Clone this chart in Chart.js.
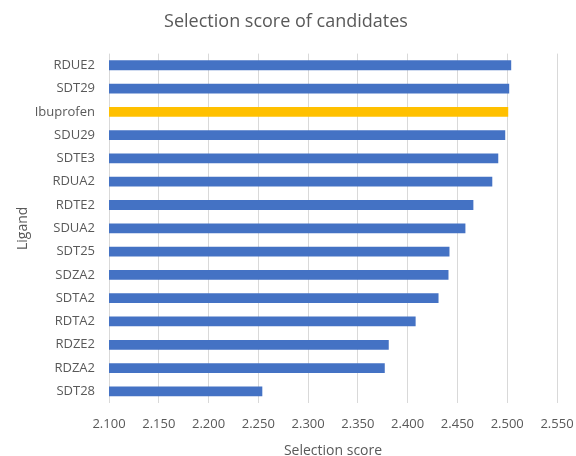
<!DOCTYPE html>
<html>
<head>
<meta charset="utf-8">
<script src="https://cdn.jsdelivr.net/npm/chart.js@4/dist/chart.umd.min.js"></script>
<style>
  html, body { margin: 0; padding: 0; background: #fff; }
  #wrap { width: 576px; height: 456px; }
</style>
</head>
<body>
<div id="wrap"><canvas id="scoreChart" width="576" height="456"></canvas></div>
<script>
// values
const ligands = ['RDUE2', 'SDT29', 'Ibuprofen', 'SDU29', 'SDTE3', 'RDUA2', 'RDTE2', 'SDUA2',
    'SDT25', 'SDZA2', 'SDTA2', 'RDTA2', 'RDZE2', 'RDZA2', 'SDT28'];
const scores = [2.504, 2.502, 2.501, 2.498, 2.491, 2.485, 2.466, 2.458,
    2.442, 2.441, 2.431, 2.408, 2.381, 2.377, 2.254];
const xTicks = [2.100, 2.150, 2.200, 2.250, 2.300, 2.350, 2.400, 2.450, 2.500, 2.550];

const textColor = '#595959';
const fontFamily = '"Open Sans", "Liberation Sans", sans-serif';

const barColors = ligands.map(name => name === 'Ibuprofen' ? '#FFC000' : '#4472C4');

const ctx = document.getElementById('scoreChart').getContext('2d');
const scoreChart = new Chart(ctx, {
    type: 'bar',
    data: {
        labels: ligands,
        datasets: [{
            label: 'Selection score',
            data: scores,
            backgroundColor: barColors,
            borderWidth: 0,
            barPercentage: 0.42,
            categoryPercentage: 1.0
        }]
    },
    options: {
        indexAxis: 'y',
        responsive: false,
        animation: false,
        layout: {
            padding: { left: 15, right: 19, top: 11, bottom: 0 }
        },
        plugins: {
            legend: { display: false },
            tooltip: { enabled: false },
            title: {
                display: true,
                text: 'Selection score of candidates',
                color: textColor,
                font: { family: fontFamily, size: 18, weight: 'normal' },
                padding: { top: 0, bottom: 21 }
            }
        },
        scales: {
            x: {
                min: xTicks[0],
                max: xTicks[xTicks.length - 1],
                afterBuildTicks: axis => {
                    axis.ticks = xTicks.map(v => ({ value: v }));
                },
                afterFit: axis => {
                    // keep the plot edges where the reference has them
                    axis.height = 53;
                    axis.paddingLeft = 0;
                    axis.paddingRight = 0;
                },
                ticks: {
                    color: textColor,
                    font: { family: fontFamily, size: 13 },
                    padding: 13,
                    maxRotation: 0,
                    callback: value => Number(value).toFixed(3)
                },
                grid: {
                    color: '#d9d9d9',
                    lineWidth: 1,
                    drawTicks: false
                },
                border: { display: false },
                title: {
                    display: true,
                    text: 'Selection score',
                    color: textColor,
                    font: { family: fontFamily, size: 14 },
                    padding: { top: 0, bottom: -3 }
                }
            },
            y: {
                afterFit: axis => { axis.width = 94; },
                ticks: {
                    color: textColor,
                    font: { family: fontFamily, size: 13 },
                    padding: 14
                },
                grid: { display: false, drawTicks: false },
                border: { display: false },
                title: {
                    display: true,
                    text: 'Ligand',
                    color: textColor,
                    font: { family: fontFamily, size: 14 },
                    padding: { top: 0, bottom: 0 }
                }
            }
        }
    }
});
</script>
</body>
</html>
